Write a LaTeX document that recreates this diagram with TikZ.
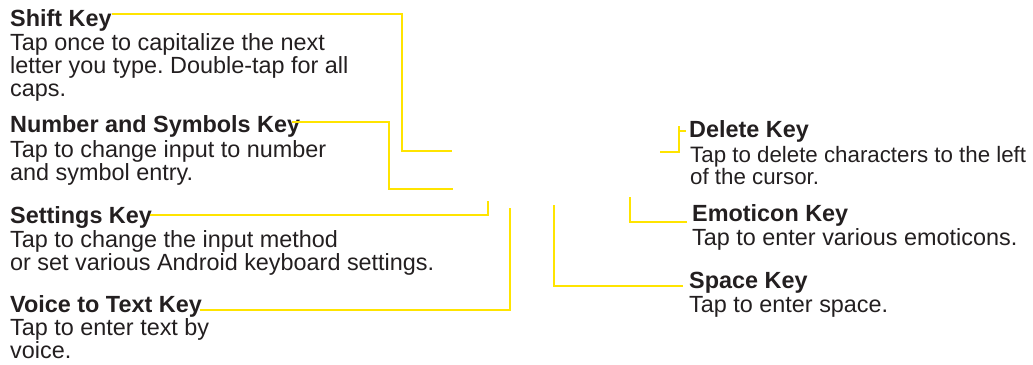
\documentclass[tikz,border=0pt]{standalone}
\usepackage{fontspec}
\setmainfont{Liberation Sans}
\frenchspacing
\definecolor{keyyellow}{RGB}{255,228,0}
\definecolor{ink}{RGB}{35,31,32}
\begin{document}
\begin{tikzpicture}[x=1pt,y=-1pt]
\tikzstyle{hd}=[anchor=base west,inner sep=0,text=ink,font=\fontsize{23.4}{23.5}\selectfont\bfseries]
\tikzstyle{txt}=[anchor=base west,inner sep=0,text=ink,align=left,font=\fontsize{23.4}{23.2}\selectfont]
\tikzstyle{lead}=[draw=keyyellow,line width=1.6pt]
\useasboundingbox (0,0) rectangle (1033,364);
% left column (text nodes sit on the baseline of their last line)
\node[hd] (shift) at (10,27) {Shift Key};
\node[txt] (shifttxt) at (10,96.4) {Tap once to capitalize the next\\letter you type. Double-tap for all\\caps.};
\node[hd] (numsym) at (10,132) {Number and Symbols Key};
\node[txt] (numsymtxt) at (10,180.2) {Tap to change input to number\\and symbol entry.};
\node[hd] (settings) at (10,223) {Settings Key};
\node[txt] (settingstxt) at (10,270.2) {Tap to change the input method\\or set various Android keyboard settings.};
\node[hd] (voice) at (10,312) {Voice to Text Key};
\node[txt] (voicetxt) at (10,358.2) {Tap to enter text by\\voice.};
% right column
\node[hd] (delete) at (689,137) {Delete Key};
\node[txt,font=\fontsize{22.3}{22.2}\selectfont] (deletetxt) at (690,184.2) {Tap to delete characters to the left\\of the cursor.};
\node[hd] (emoticon) at (692,221) {Emoticon Key};
\node[txt] (emoticontxt) at (692,245) {Tap to enter various emoticons.};
\node[hd] (space) at (689,288) {Space Key};
\node[txt] (spacetxt) at (689,312) {Tap to enter space.};
% key positions
\coordinate (shiftbend) at (402,151);
\coordinate (shiftkey) at (452,151);
\coordinate (numsymbend) at (389,189);
\coordinate (numsymkey) at (453,189);
\coordinate (settingskey) at (488,201);
\coordinate (voicekey) at (510,208);
\coordinate (spacekey) at (554,205);
\coordinate (emoticonkey) at (630,197);
\coordinate (deletebend) at (679,126);
\coordinate (deletekey) at (660,152);
% leader lines
\draw[lead] ([yshift=7]shift.east) -| (shiftbend) -- (shiftkey);
\draw[lead] ([xshift=-8,yshift=4]numsym.east) -| (numsymbend) -- (numsymkey);
\draw[lead] ([xshift=-2,yshift=2]settings.east) -| (settingskey);
\draw[lead] ([xshift=-2,yshift=-4]voice.east) -| (voicekey);
\draw[lead] ([xshift=-6,yshift=-4]space.west) -| (spacekey);
\draw[lead] ([xshift=-5,yshift=-7]emoticon.west) -| (emoticonkey);
\draw[lead] ([xshift=-3]delete.west) -| (deletebend) |- (deletekey);
\end{tikzpicture}
\end{document}
